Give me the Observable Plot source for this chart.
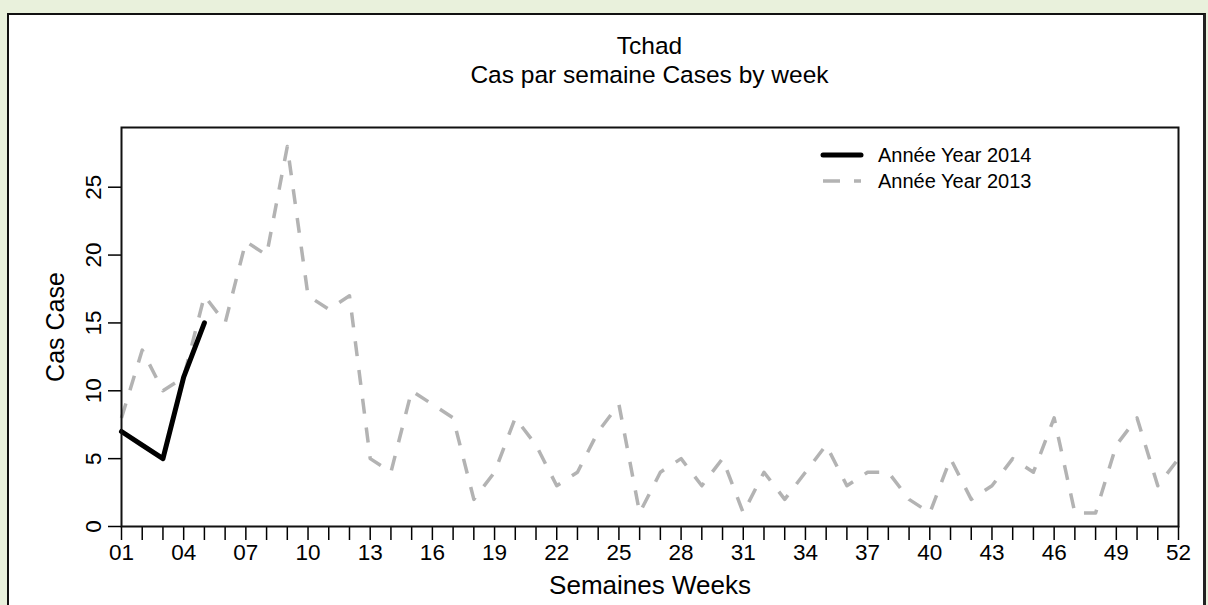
<!DOCTYPE html>
<html>
<head>
<meta charset="utf-8">
<script src="https://cdn.jsdelivr.net/npm/d3@7"></script>
<script src="https://cdn.jsdelivr.net/npm/@observablehq/plot@0.6"></script>
<style>
  html, body { margin: 0; padding: 0; }
  body { width: 1208px; height: 605px; overflow: hidden; position: relative; background: #e9f1dc; font-family: "Liberation Sans", Arial, sans-serif; color: #000; }
  #panel { position: absolute; left: 7px; top: 13px; width: 1199px; height: 640px; box-sizing: border-box; background: #fff; border: 2px solid #111; border-right: 3px solid #222; }
  .title { position: absolute; left: 121px; width: 1057px; text-align: center; font-size: 24.5px; line-height: 28px; }
  #chart { position: absolute; left: 0; top: 100px; }
  #legend { position: absolute; left: 820px; top: 142px; font-size: 20px; line-height: 26px; }
  #legend div { display: flex; align-items: center; height: 26px; }
  #legend svg { margin-right: 14px; }
</style>
</head>
<body>
<div id="panel"></div>
<div class="title" style="top:32px">Tchad</div>
<div class="title" style="top:61px">Cas par semaine Cases by week</div>
<div id="chart"></div>
<div id="legend"></div>
<script>
// Weeks (x categories)
const weeks = [1,2,3,4,5,6,7,8,9,10,11,12,13,14,15,16,17,18,19,20,21,22,23,24,25,26,
               27,28,29,30,31,32,33,34,35,36,37,38,39,40,41,42,43,44,45,46,47,48,49,50,51,52];
// Year 2013 weekly cases
const cases2013 = [8,13,10,11,17,15,21,20,28,17,16,17,5,4,10,9,8,2,4,8,6,3,4,7,9,1,
                   4,5,3,5,1,4,2,4,6,3,4,4,2,1,5,2,3,5,4,8,1,1,6,8,3,5];
// Year 2014 weekly cases (weeks 1-5)
const weeks2014 = [1,2,3,4,5];
const cases2014 = [7,6,5,11,15];
// Axis ticks
const yTicks = [0,5,10,15,20,25];
const xLabelWeeks = [1,4,7,10,13,16,19,22,25,28,31,34,37,40,43,46,49,52];
const xTickLabels = ["01","04","07","10","13","16","19","22","25","28","31","34","37","40","43","46","49","52"];
const seriesNames = ["Année Year 2014", "Année Year 2013"];

const data2013 = weeks.map((w, i) => ({week: w, cases: cases2013[i]}));
const data2014 = weeks2014.map((w, i) => ({week: w, cases: cases2014[i]}));
const labelOf = new Map(xLabelWeeks.map((w, i) => [w, xTickLabels[i]]));

const chart = Plot.plot({
  width: 1208,
  height: 505,
  marginLeft: 121,
  marginRight: 30,
  marginTop: 27,
  marginBottom: 79,
  style: {background: "transparent", fontFamily: "'Liberation Sans', Arial, sans-serif", fontSize: "22px", color: "#000", overflow: "visible"},
  x: {domain: [1, 52]},
  y: {domain: [0, 29.4]},
  marks: [
    Plot.axisX({ticks: weeks, tickSize: 14, tickPadding: 4, strokeWidth: 1.5,
      tickFormat: d => labelOf.get(d) ?? "", fontSize: 22.5, label: null}),
    Plot.axisY({ticks: yTicks, tickSize: 13, strokeWidth: 1.5, tickFormat: () => "", label: null}),
    Plot.text(yTicks, {y: d => d, text: d => String(d), frameAnchor: "left", textAnchor: "middle", dx: -28, rotate: -90, fontSize: 22.5}),
    Plot.text(["Semaines Weeks"], {text: d => d, frameAnchor: "bottom", dy: 67, fontSize: 26}),
    Plot.text(["Cas Case"], {text: d => d, frameAnchor: "left", textAnchor: "middle", dx: -66, rotate: -90, fontSize: 25}),
    Plot.line(data2013, {x: "week", y: "cases", stroke: "#b3b3b3", strokeWidth: 3.5,
      strokeDasharray: "15,14", strokeLinejoin: "round", strokeLinecap: "butt"}),
    Plot.line(data2014, {x: "week", y: "cases", stroke: "#000", strokeWidth: 5,
      strokeLinejoin: "round", strokeLinecap: "round"}),
    Plot.frame({stroke: "#111", strokeWidth: 2})
  ]
});
document.getElementById("chart").appendChild(chart);

// Legend
const legend = document.getElementById("legend");
const styles = [
  {stroke: "#000", width: 5, dash: null, cap: "round"},
  {stroke: "#b3b3b3", width: 3.5, dash: "17,14", cap: "butt"}
];
seriesNames.forEach((name, i) => {
  const row = document.createElement("div");
  const s = styles[i];
  row.innerHTML = `<svg width="44" height="10"><line x1="3" x2="41" y1="5" y2="5" stroke="${s.stroke}" stroke-width="${s.width}" stroke-linecap="${s.cap}" ${s.dash ? `stroke-dasharray="${s.dash}"` : ""}/></svg><span>${name}</span>`;
  legend.appendChild(row);
});
</script>
</body>
</html>
